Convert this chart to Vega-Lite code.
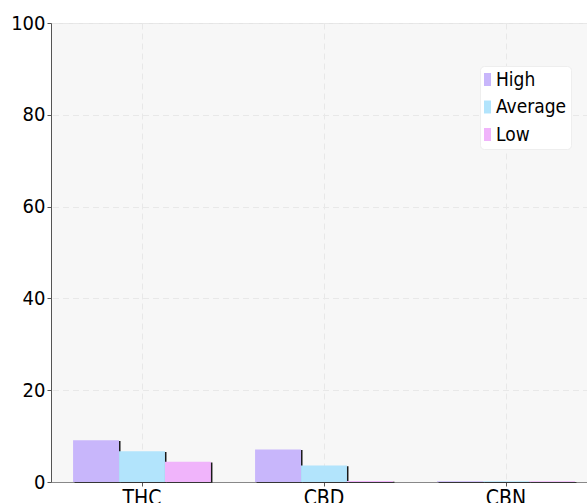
{
  "$schema": "https://vega.github.io/schema/vega-lite/v6.json",
  "autosize": "none",
  "padding": {"left": 51, "top": 23, "right": 0, "bottom": 21},
  "width": 546,
  "height": 459,
  "background": "#ffffff",
  "config": {
    "font": "DejaVu Sans Condensed",
    "view": {"fill": "#f7f7f7", "stroke": "#e4e4e4"},
    "axis": {
      "labelFont": "DejaVu Sans Condensed",
      "labelColor": "#000000",
      "gridDash": [6, 4],
      "gridColor": "#e8e8e8",
      "domainColor": "#555555",
      "tickColor": "#555555"
    }
  },
  "data": {
    "values": [
      {"compound": "THC", "level": "High", "value": 9.1},
      {"compound": "THC", "level": "Average", "value": 6.7},
      {"compound": "THC", "level": "Low", "value": 4.4},
      {"compound": "CBD", "level": "High", "value": 7.1},
      {"compound": "CBD", "level": "Average", "value": 3.6},
      {"compound": "CBD", "level": "Low", "value": 0.2},
      {"compound": "CBN", "level": "High", "value": 0.15},
      {"compound": "CBN", "level": "Average", "value": 0.15},
      {"compound": "CBN", "level": "Low", "value": 0.15}
    ]
  },
  "resolve": {"scale": {"x": "independent", "xOffset": "independent"}, "axis": {"x": "independent"}},
  "layer": [
    {
      "mark": {"type": "bar", "color": "#1a1a1a", "yOffset": 0.7},
      "encoding": {
        "x": {
          "field": "compound",
          "type": "nominal",
          "sort": ["THC", "CBD", "CBN"],
          "scale": {"paddingInner": 0, "paddingOuter": 0, "range": [1.5, 547.5]},
          "axis": null
        },
        "xOffset": {
          "field": "level",
          "type": "nominal",
          "sort": ["High", "Average", "Low"],
          "scale": {"paddingInner": 0, "paddingOuter": 0.48}
        },
        "y": {
          "field": "value",
          "type": "quantitative",
          "scale": {"domain": [0, 100], "nice": false},
          "axis": {
            "title": null,
            "values": [0, 20, 40, 60, 80, 100],
            "labelFontSize": 20,
            "labelPadding": 2,
            "tickSize": 4,
            "grid": true
          }
        }
      }
    },
    {
      "mark": {"type": "bar"},
      "encoding": {
        "x": {
          "field": "compound",
          "type": "nominal",
          "sort": ["THC", "CBD", "CBN"],
          "scale": {"paddingInner": 0, "paddingOuter": 0, "range": [0, 546]},
          "axis": {
            "title": null,
            "labelAngle": 0,
            "labelFontSize": 21,
            "labelPadding": 1,
            "tickSize": 4,
            "domainColor": "#888888",
            "grid": true
          }
        },
        "xOffset": {
          "field": "level",
          "type": "nominal",
          "sort": ["High", "Average", "Low"],
          "scale": {"paddingInner": 0, "paddingOuter": 0.48}
        },
        "y": {
          "field": "value",
          "type": "quantitative"
        },
        "color": {
          "field": "level",
          "type": "nominal",
          "sort": ["High", "Average", "Low"],
          "scale": {
            "domain": ["High", "Average", "Low"],
            "range": ["#c8b6fb", "#b2e4fc", "#f0b4fb"]
          },
          "legend": {
            "title": null,
            "orient": "none",
            "legendX": 429,
            "legendY": 43,
            "fillColor": "#ffffff",
            "strokeColor": "#eeeeee",
            "cornerRadius": 4,
            "padding": 4,
            "labelFontSize": 19,
            "labelColor": "#000000",
            "labelFont": "DejaVu Sans Condensed",
            "symbolType": "M-2.38,-1.62H-0.62V1.62H-2.38Z",
            "symbolSize": 64,
            "symbolStrokeWidth": 0,
            "symbolOpacity": 1,
            "labelOffset": -7,
            "rowPadding": 7.5
          }
        }
      }
    }
  ]
}
